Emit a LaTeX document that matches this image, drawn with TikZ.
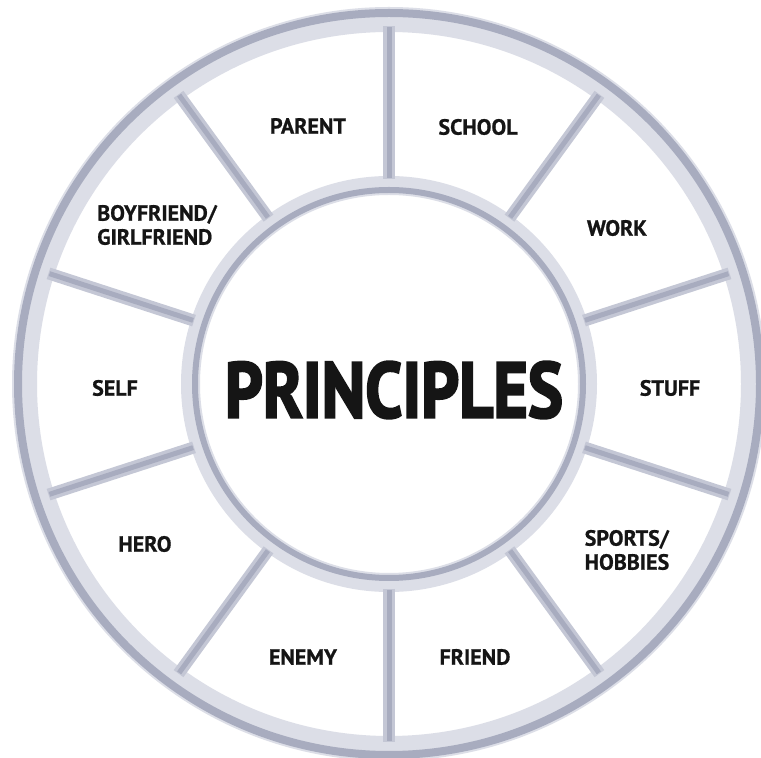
\documentclass[tikz,border=0pt]{standalone}
\usepackage{fontspec}
\setmainfont{PT Sans}
\newfontfamily\titlefont[UprightFont={* Bold},FakeBold=3]{PT Sans}
\newfontfamily\labelfont[UprightFont={* Bold},FakeBold=0.8]{PT Sans}
\usetikzlibrary{calc}
\definecolor{ringdark}{HTML}{A8ACBF}
\definecolor{ringmid}{HTML}{C4C7D5}
\definecolor{ringlight}{HTML}{DCDEE7}
\definecolor{ink}{HTML}{151515}
\tikzset{
  lbl/.style={text=ink, font=\fontsize{22}{24}\selectfont\labelfont, inner sep=0pt, align=left},
  band/.style={fill=ringlight, even odd rule},
  rim/.style={draw=ringdark},
  divlight/.style={draw=ringmid, line width=12, line cap=butt},
  divdark/.style={draw=ringdark, line width=5, line cap=butt}
}
\begin{document}
\begin{tikzpicture}[x=1pt,y=1pt]
\useasboundingbox (0,0) rectangle (761,758);
\clip (0,0) rectangle (761,758);
\fill[white] (0,0) rectangle (761,758);
\coordinate (c) at (389,374);
% outer ring band
\fill[band] (c) circle (377) (c) circle (352);
\draw[rim, line width=8] (c) circle (371);
% inner circle band
\fill[band] (c) circle (208) (c) circle (189);
\draw[rim, line width=6] (c) circle (194);
% dividers
\foreach \a in {90,54,...,-234} {
  \draw[divlight] ($(c)+(\a:205)$) -- ($(c)+(\a:358)$);
  \draw[divdark] ($(c)+(\a:206)$) -- ($(c)+(\a:357)$);
}
% labels
\node[lbl] (parent) at (308,632) {PARENT};
\node[lbl] (school) at (478,631) {SCHOOL};
\node[lbl] (work) at (617,530) {WORK};
\node[lbl] (stuff) at (670,370) {STUFF};
\node[lbl] (sports) at (627,208) {SPORTS/\\HOBBIES};
\node[lbl] (friend) at (475,101) {FRIEND};
\node[lbl] (enemy) at (303,101) {ENEMY};
\node[lbl] (hero) at (145,214) {HERO};
\node[lbl] (self) at (115,370) {SELF};
\node[lbl] (bf) at (157,533) {BOYFRIEND/\\GIRLFRIEND};
\node[text=ink, inner sep=0pt] (title) at (394,368) {\resizebox{338pt}{56pt}{\titlefont PRINCIPLES}};
\end{tikzpicture}
\end{document}
